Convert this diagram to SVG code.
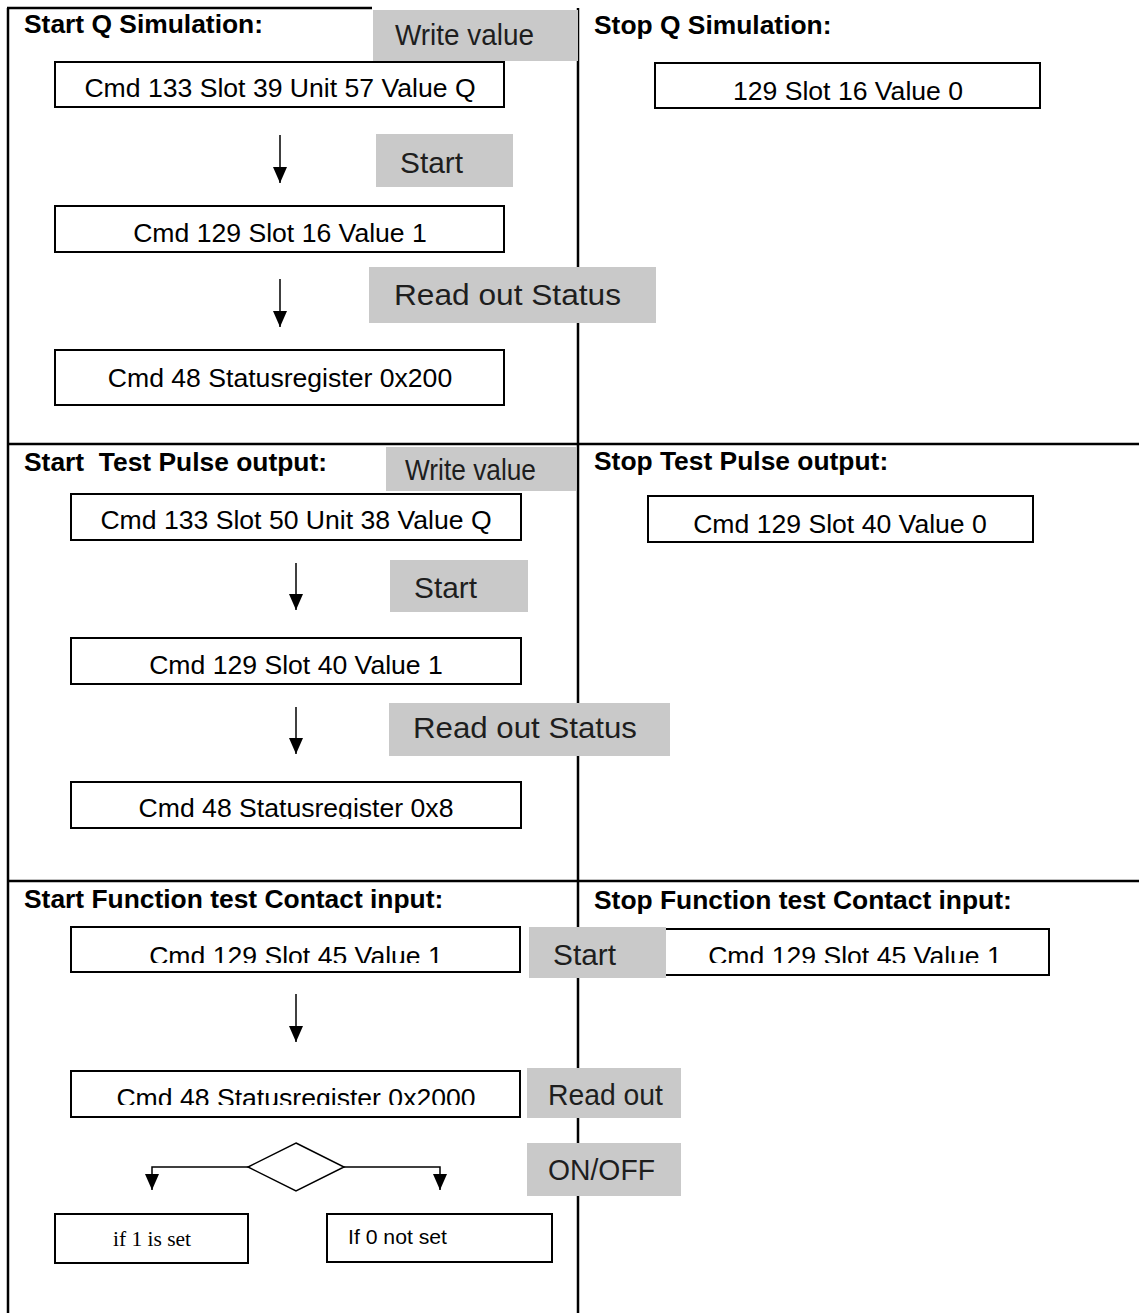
<svg xmlns="http://www.w3.org/2000/svg" width="1139" height="1313" viewBox="0 0 1139 1313">
<defs>
<style>
.frame{stroke:#000;stroke-width:2.5;fill:none}
.box{fill:#fff;stroke:#000;stroke-width:2}
.gray{fill:#c9c9c9}
.t{font-family:"Liberation Sans",Arial,sans-serif;font-size:26.6px;fill:#000}
.c{text-anchor:middle}
.title{font-family:"Liberation Sans",Arial,sans-serif;font-weight:bold;font-size:26.4px;fill:#000;white-space:pre}
.g{font-family:"Liberation Sans",Arial,sans-serif;font-size:29px;fill:#1e1e1e}
.serif{font-family:"Liberation Serif","Times New Roman",serif;font-size:20.5px;fill:#000}
.small{font-family:"Liberation Sans",Arial,sans-serif;font-size:20px;fill:#000}
.conn{stroke:#000;stroke-width:1.5;fill:none;marker-end:url(#ah)}
.diamond{fill:#fff;stroke:#000;stroke-width:1.5}
</style>
<marker id="ah" markerUnits="userSpaceOnUse" markerWidth="16" markerHeight="14" refX="16" refY="7" orient="auto">
<path d="M0,0 L16,7 L0,14 z" fill="#000"/>
</marker>
<clipPath id="cp819"><rect x="0" y="0" width="1139" height="819"/></clipPath>
<clipPath id="cp963"><rect x="0" y="0" width="1139" height="963"/></clipPath>
<clipPath id="cp1105"><rect x="0" y="0" width="1139" height="1105"/></clipPath>
</defs>
<rect width="1139" height="1313" fill="#fff"/>

<g id="frame">
<line class="frame" x1="8" y1="8" x2="8" y2="1313"/>
<line class="frame" x1="7" y1="8" x2="372" y2="8"/>
<line class="frame" x1="578" y1="8" x2="578" y2="1313"/>
<line class="frame" x1="7" y1="444" x2="1139" y2="444"/>
<line class="frame" x1="7" y1="881" x2="1139" y2="881"/>
</g>

<g id="titles">
<text class="title" x="24" y="33">Start Q Simulation:</text>
<text class="title" x="594" y="34">Stop Q Simulation:</text>
<text class="title" x="24" y="471">Start  Test Pulse output:</text>
<text class="title" x="594" y="470">Stop Test Pulse output:</text>
<text class="title" x="24" y="908">Start Function test Contact input:</text>
<text class="title" x="594" y="909">Stop Function test Contact input:</text>
</g>

<g id="connectors">
<line class="conn" x1="280" y1="135" x2="280" y2="183"/>
<line class="conn" x1="280" y1="279" x2="280" y2="327"/>
<line class="conn" x1="296" y1="563" x2="296" y2="610"/>
<line class="conn" x1="296" y1="707" x2="296" y2="754"/>
<line class="conn" x1="296" y1="994" x2="296" y2="1042"/>
<polyline class="conn" points="248,1167 152,1167 152,1190"/>
<polyline class="conn" points="344,1167 440,1167 440,1190"/>
</g>

<g id="n-q-write">
<rect class="box" x="55" y="62" width="449" height="45"/>
<text class="t c" x="280" y="97">Cmd 133 Slot 39 Unit 57 Value Q</text>
</g>
<g id="n-q-start">
<rect class="box" x="55" y="206" width="449" height="46"/>
<text class="t c" x="280" y="242">Cmd 129 Slot 16 Value 1</text>
</g>
<g id="n-q-status">
<rect class="box" x="55" y="350" width="449" height="55"/>
<text class="t c" x="280" y="387">Cmd 48 Statusregister 0x200</text>
</g>
<g id="n-q-stop">
<rect class="box" x="655" y="63" width="385" height="45"/>
<text class="t c" x="848" y="100">129 Slot 16 Value 0</text>
</g>

<g id="n-tp-write">
<rect class="box" x="71" y="494" width="450" height="46"/>
<text class="t c" x="296" y="529">Cmd 133 Slot 50 Unit 38 Value Q</text>
</g>
<g id="n-tp-start">
<rect class="box" x="71" y="638" width="450" height="46"/>
<text class="t c" x="296" y="674">Cmd 129 Slot 40 Value 1</text>
</g>
<g id="n-tp-status">
<rect class="box" x="71" y="782" width="450" height="46"/>
<text class="t c" x="296" y="817" clip-path="url(#cp819)">Cmd 48 Statusregister 0x8</text>
</g>
<g id="n-tp-stop">
<rect class="box" x="648" y="496" width="385" height="46"/>
<text class="t c" x="840" y="533">Cmd 129 Slot 40 Value 0</text>
</g>

<g id="n-fc-start">
<rect class="box" x="71" y="927" width="449" height="45"/>
<text class="t c" x="296" y="965" clip-path="url(#cp963)">Cmd 129 Slot 45 Value 1</text>
</g>
<g id="n-fc-status">
<rect class="box" x="71" y="1071" width="449" height="46"/>
<text class="t c" x="296" y="1107" clip-path="url(#cp1105)">Cmd 48 Statusregister 0x2000</text>
</g>
<g id="n-fc-decision">
<polygon class="diamond" points="296,1143 344,1167 296,1191 248,1167"/>
</g>
<g id="n-fc-set">
<rect class="box" x="55" y="1214" width="193" height="49"/>
<text class="serif" x="113" y="1246" textLength="78" lengthAdjust="spacingAndGlyphs">if 1 is set</text>
</g>
<g id="n-fc-notset">
<rect class="box" x="327" y="1214" width="225" height="48"/>
<text class="small" x="348" y="1244" textLength="99" lengthAdjust="spacingAndGlyphs">If 0 not set</text>
</g>
<g id="n-fc-stop">
<rect class="box" x="661" y="929" width="388" height="46"/>
<text class="t c" x="855" y="965" clip-path="url(#cp963)">Cmd 129 Slot 45 Value 1</text>
</g>

<g id="l-q-write">
<rect class="gray" x="373" y="10" width="205" height="51"/>
<text class="g" x="395" y="45" textLength="139" lengthAdjust="spacingAndGlyphs">Write value</text>
</g>
<g id="l-q-start">
<rect class="gray" x="376" y="134" width="137" height="53"/>
<text class="g" x="400" y="173" textLength="63" lengthAdjust="spacingAndGlyphs">Start</text>
</g>
<g id="l-q-read">
<rect class="gray" x="369" y="267" width="287" height="56"/>
<text class="g" x="394" y="305" textLength="227" lengthAdjust="spacingAndGlyphs">Read out Status</text>
</g>

<g id="l-tp-write">
<rect class="gray" x="386" y="447" width="190" height="44"/>
<text class="g" x="405" y="480" textLength="131" lengthAdjust="spacingAndGlyphs">Write value</text>
</g>
<g id="l-tp-start">
<rect class="gray" x="390" y="560" width="138" height="52"/>
<text class="g" x="414" y="598" textLength="63" lengthAdjust="spacingAndGlyphs">Start</text>
</g>
<g id="l-tp-read">
<rect class="gray" x="389" y="703" width="281" height="53"/>
<text class="g" x="413" y="738" textLength="224" lengthAdjust="spacingAndGlyphs">Read out Status</text>
</g>

<g id="l-fc-start">
<rect class="gray" x="529" y="927" width="137" height="51"/>
<text class="g" x="553" y="965" textLength="63" lengthAdjust="spacingAndGlyphs">Start</text>
</g>
<g id="l-fc-read">
<rect class="gray" x="527" y="1068" width="154" height="50"/>
<text class="g" x="548" y="1105" textLength="115" lengthAdjust="spacingAndGlyphs">Read out</text>
</g>
<g id="l-fc-onoff">
<rect class="gray" x="527" y="1143" width="154" height="53"/>
<text class="g" x="548" y="1180" textLength="107" lengthAdjust="spacingAndGlyphs">ON/OFF</text>
</g>
</svg>
